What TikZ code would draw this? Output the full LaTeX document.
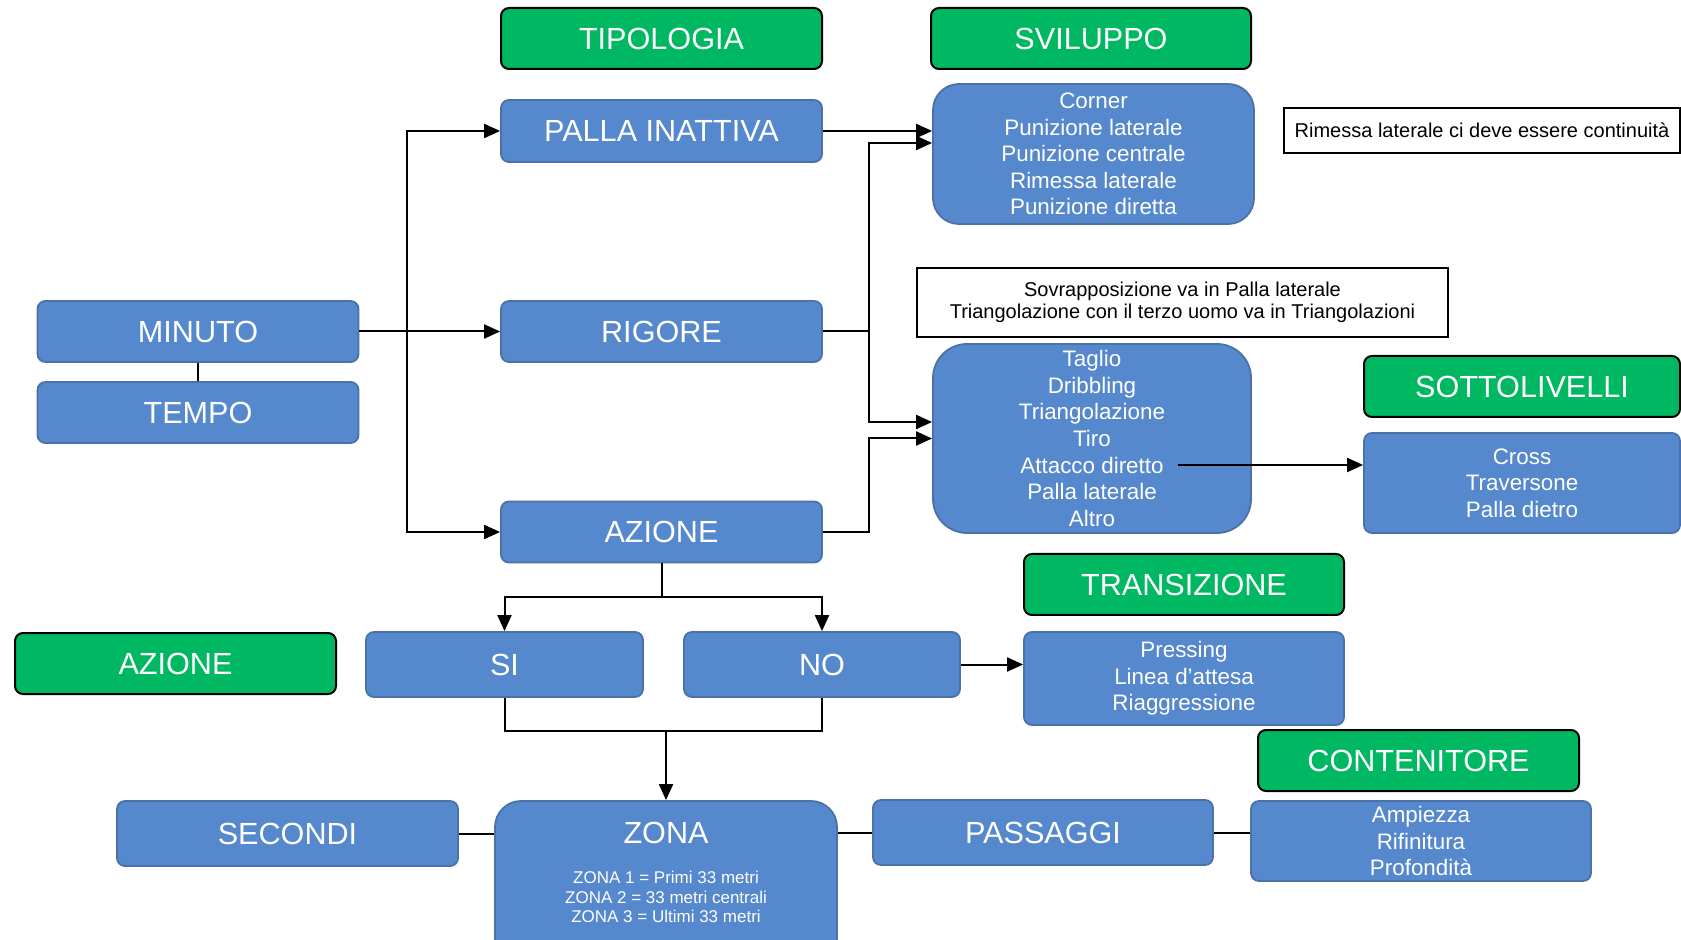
\documentclass[tikz,border=0pt]{standalone}
\usepackage{fontspec}
\setmainfont{Liberation Sans}
\usetikzlibrary{arrows.meta,calc}
\definecolor{bl}{HTML}{5588CC}
\definecolor{bld}{HTML}{4A72A6}
\definecolor{gr}{HTML}{00B862}
\begin{document}
\begin{tikzpicture}[x=0.5pt,y=-0.5pt,
  box/.style={draw=bld,fill=bl,line width=0.9pt,rounded corners=4pt,text=white,
    inner sep=0pt,align=center,font=\fontsize{15.3}{18}\selectfont},
  lbox/.style={box,font=\fontsize{11.2}{13.3}\selectfont},
  gbox/.style={draw=black,fill=gr,line width=1pt,rounded corners=4pt,text=white,
    inner sep=0pt,align=center,font=\fontsize{15.3}{18}\selectfont},
  note/.style={draw=black,fill=white,line width=1pt,inner sep=0pt,align=center,
    font=\fontsize{10}{11}\selectfont},
  sz/.style 2 args={minimum width=#1*0.5pt,minimum height=#2*0.5pt},
  conn/.style={draw=black,line width=1pt},
  arr/.style={conn,-{Triangle[length=8pt,width=7pt]}}]
\useasboundingbox (0,0) rectangle (1681,940);
% header labels
\node[gbox,sz={321}{61}] (tipologia) at (661.5,38.5) {TIPOLOGIA};
\node[gbox,sz={320}{61}] (sviluppo) at (1091,38.5) {SVILUPPO};
\node[gbox,sz={316}{61}] (sottoliv) at (1522,386.5) {SOTTOLIVELLI};
\node[gbox,sz={320}{61}] (transiz) at (1184,584.5) {TRANSIZIONE};
\node[gbox,sz={321}{61}] (azioneg) at (175.5,663.5) {AZIONE};
\node[gbox,sz={321}{61}] (contenit) at (1418.5,760.5) {CONTENITORE};
% blue boxes
\node[box,sz={321}{62}] (palla) at (661.5,131) {PALLA INATTIVA};
\node[box,sz={321}{61}] (minuto) at (198,331.5) {MINUTO};
\node[box,sz={321}{61}] (tempo) at (198,412.5) {TEMPO};
\node[box,sz={321}{61}] (rigore) at (661.5,331.5) {RIGORE};
\node[box,sz={321}{61}] (azione) at (661.5,532) {AZIONE};
\node[lbox,sz={321}{140},rounded corners=13pt] (corner) at (1093.5,154)
  {Corner\\Punizione laterale\\Punizione centrale\\Rimessa laterale\\Punizione diretta};
\node[lbox,sz={318}{189},rounded corners=17pt] (taglio) at (1092,438.5)
  {Taglio\\Dribbling\\Triangolazione\\Tiro\\Attacco diretto\\Palla laterale\\Altro};
\node[lbox,sz={316}{100}] (cross) at (1522,483) {Cross\\Traversone\\Palla dietro};
\node[lbox,sz={320}{93}] (pressing) at (1184,678.5) {Pressing\\Linea d’attesa\\Riaggressione};
\node[box,sz={277}{65}] (si) at (504.5,664.5) {SI};
\node[box,sz={276}{65}] (no) at (822,664.5) {NO};
\node[box,sz={341}{65}] (secondi) at (287.5,833.5) {SECONDI};
\node[box,sz={342}{170},rounded corners=13pt] (zona) at (666,886) {};
\node[text=white,font=\fontsize{15.3}{18}\selectfont,inner sep=0pt] (zonat) at (666,833) {ZONA};
\node[text=white,align=center,inner sep=0pt,font=\fontsize{8.5}{9.75}\selectfont] (zonasub) at (666,897)
  {ZONA 1 = Primi 33 metri\\ZONA 2 = 33 metri centrali\\ZONA 3 = Ultimi 33 metri};
\node[box,sz={340}{65}] (passaggi) at (1043,832.5) {PASSAGGI};
\node[lbox,sz={340}{80}] (ampiezza) at (1421,841) {Ampiezza\\Rifinitura\\Profondità};
% notes
\node[note,sz={396}{45}] (rimessa) at (1482,130.5) {Rimessa laterale ci deve essere continuità};
\node[note,sz={531}{69}] (sovr) at (1182.5,302.5)
  {Sovrapposizione va in Palla laterale\\Triangolazione con il terzo uomo va in Triangolazioni};
% connectors
\coordinate (bus) at (407,331.5);
\draw[arr] (minuto.east) -- (rigore.west);
\draw[arr] (bus) |- (palla.west);
\draw[arr] (bus) |- (azione.west);
\draw[draw=black,line width=0.6pt] (minuto.south) -- (tempo.north);
\coordinate (j) at (869,331.5);
\draw[arr] (palla.east) -- (palla.east -| corner.west);
\draw[arr] (rigore.east) -- (j) |- ($(corner.west)+(0,-11)$);
\draw[arr] (j) |- ($(taglio.west)+(0,-16.5)$);
\draw[arr] (azione.east) -- (azione.east -| j) |- (taglio.west);
\coordinate (att) at (1178,465);
\draw[arr] (att) -- (att -| cross.west);
\draw[conn] (azione.south) -- ++(0,34) coordinate (s);
\draw[arr] (s) -| (si.north);
\draw[arr] (s) -| (no.north);
\draw[conn] (si.south) -- ++(0,33) coordinate (m0) -| (no.south);
\draw[arr] (m0 -| zona.north) -- (zona.north);
\draw[arr] (no.east) -- (no.east -| pressing.west);
\draw[conn] (secondi.east) -- (secondi.east -| zona.west);
\draw[conn] (passaggi.west -| zona.east) -- (passaggi.west);
\draw[conn] (passaggi.east) -- (passaggi.east -| ampiezza.west);
\end{tikzpicture}
\end{document}
